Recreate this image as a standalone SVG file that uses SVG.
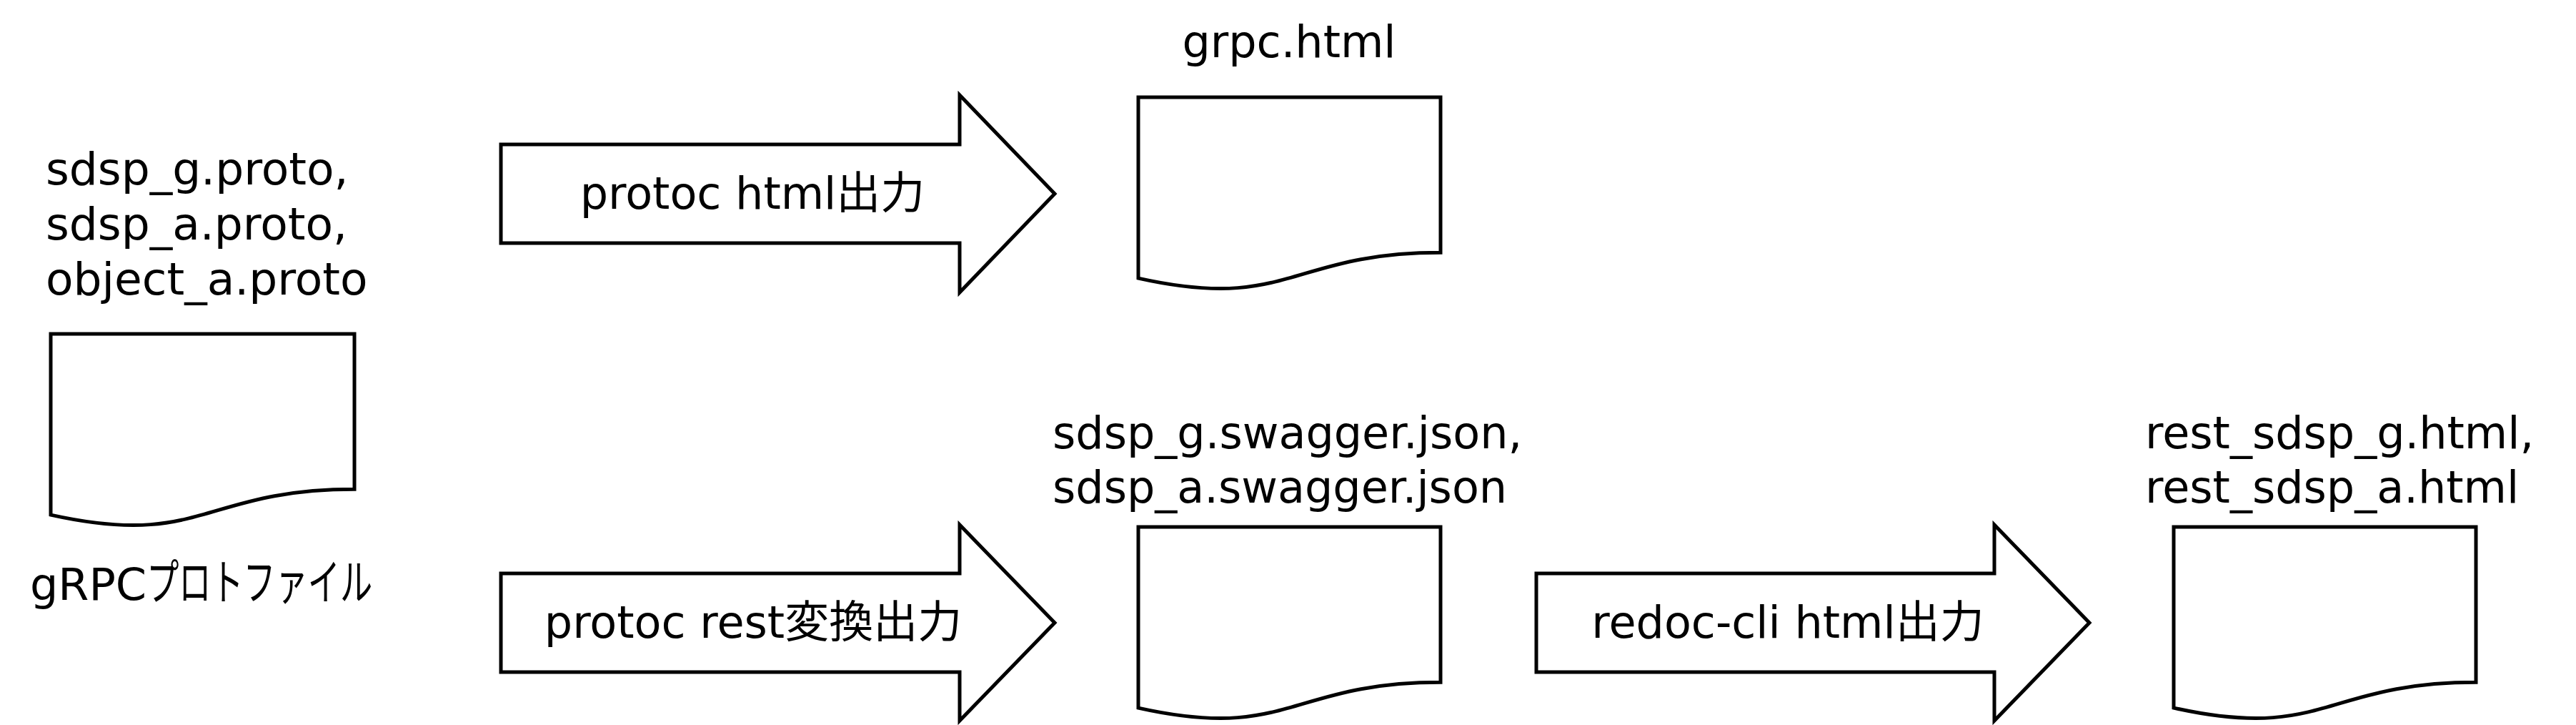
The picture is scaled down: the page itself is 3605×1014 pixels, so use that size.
<svg xmlns="http://www.w3.org/2000/svg" width="3605" height="1014" viewBox="0 0 3605 1014">
<style>
.t{font-family:"DejaVu Sans","Noto Sans CJK JP",sans-serif;font-size:62px;fill:#000}
.big{font-size:63px}
.s{fill:#fff;stroke:#000;stroke-width:5;stroke-linejoin:miter}
.kana{font-family:"Noto Sans CJK JP",sans-serif;font-size:68px}
</style>
<rect width="3605" height="1014" fill="#fff"/>
<g id="proto">
<text class="t big" x="64" y="258">sdsp_g.proto,</text>
<text class="t big" x="64" y="335">sdsp_a.proto,</text>
<text class="t big" x="64" y="412">object_a.proto</text>
<path class="s" d="M71,467 H496 V684.3 C283.5,684.3 283.5,767.2 71,720.1 Z"/>
<text class="t" x="42" y="839">gRPC<tspan class="kana" textLength="316" lengthAdjust="spacingAndGlyphs">プロトファイル</tspan></text>
</g>
<g id="grpc_html">
<text class="t" x="1804" y="80" text-anchor="middle">grpc.html</text>
<path class="s" d="M1593,136 H2016 V353.3 C1804.5,353.3 1804.5,436.2 1593,389.1 Z"/>
</g>
<g id="swagger">
<text class="t" x="1473" y="627">sdsp_g.swagger.json,</text>
<text class="t" x="1473" y="703">sdsp_a.swagger.json</text>
<path class="s" d="M1593,737 H2016 V954.3 C1804.5,954.3 1804.5,1037.2 1593,990.1 Z"/>
</g>
<g id="rest_html">
<text class="t" x="3002" y="627">rest_sdsp_g.html,</text>
<text class="t" x="3002" y="703">rest_sdsp_a.html</text>
<path class="s" d="M3042,737 H3465 V954.3 C3253.5,954.3 3253.5,1037.2 3042,990.1 Z"/>
</g>
<g id="connectors">
<g id="arrow_protoc_html">
<path class="s" d="M701,202 H1343 V133 L1476,271 L1343,409 V340 H701 Z"/>
<text class="t" x="1053" y="292" text-anchor="middle">protoc html出力</text>
</g>
<g id="arrow_protoc_rest">
<path class="s" d="M701,802 H1343 V734 L1476,871 L1343,1008 V940 H701 Z"/>
<text class="t" x="1054" y="892" text-anchor="middle">protoc rest変換出力</text>
</g>
<g id="arrow_redoc">
<path class="s" d="M2150,802 H2791 V734 L2924,871 L2791,1008 V940 H2150 Z"/>
<text class="t" x="2502" y="892" text-anchor="middle">redoc-cli html出力</text>
</g>
</g>
</svg>
